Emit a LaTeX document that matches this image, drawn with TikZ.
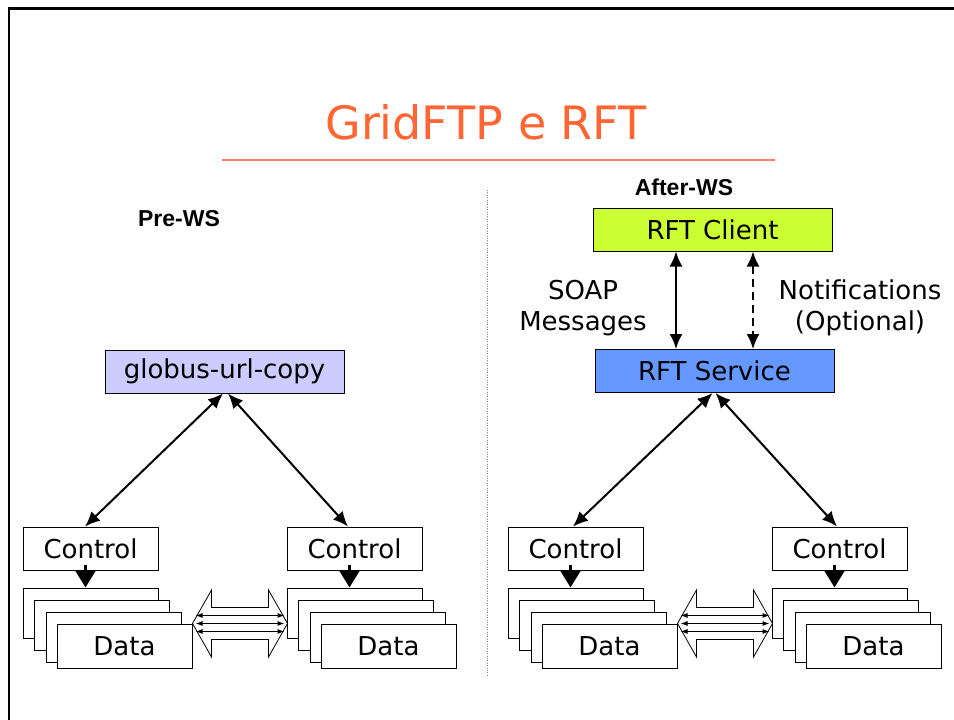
\documentclass[tikz,border=0pt]{standalone}
\usepackage{fontspec}
\setmainfont{DejaVu Sans}
\newfontfamily\headfont{Liberation Sans}
\usetikzlibrary{arrows.meta}

\definecolor{titleorange}{HTML}{FF6633}
\definecolor{ruleorange}{HTML}{FF7F66}
\definecolor{globusfill}{HTML}{CCCCFF}
\definecolor{clientfill}{HTML}{CCFF33}
\definecolor{servicefill}{HTML}{6699FF}

\tikzset{
  box/.style={draw, line width=1pt, fill=white, inner sep=0pt,
    minimum width=135pt, minimum height=43pt,
    font=\fontsize{26}{31}\selectfont},
  toolbox/.style={box, minimum width=239pt},
  head/.style={font=\headfont\bfseries\fontsize{23}{27}\selectfont},
  note/.style={align=center, font=\fontsize{26}{31}\selectfont},
  link/.style={line width=2pt, {Latex[length=15pt,width=13pt]}-{Latex[length=15pt,width=13pt]}},
  ctlarrow/.style={line width=3pt, -{Triangle[length=17pt,width=20pt]}},
  thinlink/.style={line width=1pt, {Latex[length=7pt,width=5pt]}-{Latex[length=7pt,width=5pt]}},
}

\begin{document}
\begin{tikzpicture}[x=1pt, y=-1pt]
\useasboundingbox (0,0) rectangle (954,720);
% slide frame
\draw[line width=2.5pt] (9,720) -- (9,8.5) -- (954,8.5);

% title
\node[text=titleorange, font=\fontsize{46}{55}\selectfont] (title) at (486,122) {GridFTP e RFT};
\draw[ruleorange, line width=1.5pt] (222,160) -- (775,160);
\draw[gray, dotted] (487,190) -- (487,676);

\node[head] (prews) at (179,219) {Pre-WS};
\node[head] (afterws) at (684,187) {After-WS};

\node[toolbox, fill=globusfill] (globus) at (224.5,371.5) {globus-url-copy};
\node[toolbox, fill=clientfill] (client) at (712.5,229.5) {RFT Client};
\node[toolbox, fill=servicefill] (service) at (714.5,371) {RFT Service};

% control + data stacks
\foreach \s/\x in {a/90.5, b/354.5, c/575.5, d/839.5} {
  \node[box] (ctl\s) at (\x,548.5) {Control};
  \foreach \i/\dx/\dy in {1/0/613, 2/11.5/625, 3/23/637}
    \node[box, minimum height=50pt] (d\s\i) at (\x+\dx,\dy) {};
  \node[box, minimum height=44pt] (d\s4) at (\x+34,646) {Data};
  \draw[ctlarrow] ([xshift=-5pt,yshift=6pt]ctl\s.south) -- ([xshift=-5pt]d\s1.north);
}

% hollow transfer arrows
\foreach \l in {a, c} {
  \coordinate (h\l) at (d\l4.north east);
  \begin{scope}[shift={(h\l)}]
    \draw[fill=white, line width=0.8pt] (0,0) -- (19,-33.5) -- (19,-16) -- (76,-16) -- (76,-33.5)
      -- (95,0) -- (76,33.5) -- (76,16) -- (19,16) -- (19,33.5) -- cycle;
    \foreach \y in {-8,0,8}
      \draw[thinlink] (3,\y) -- (92,\y);
  \end{scope}
}

% control links
\draw[link] ([xshift=-1.5pt]globus.south) -- ([xshift=-5.5pt]ctla.north);
\draw[link] ([xshift=3.5pt]globus.south) -- ([xshift=-6.5pt]ctlb.north);
\draw[link] ([xshift=-2pt]service.south) -- ([xshift=-2.5pt]ctlc.north);
\draw[link] ([xshift=1pt]service.south) -- ([xshift=-2.5pt]ctld.north);

% client <-> service
\draw[link] ([xshift=-36.5pt]client.south) -- ([xshift=-36.5pt]client.south |- service.north);
\draw[link, dashed, dash pattern=on 8pt off 5pt] ([xshift=40.5pt]client.south) -- ([xshift=40.5pt]client.south |- service.north);
\node[note] (soap) at (583,308) {SOAP\\Messages};
\node[note] (notif) at (860,308) {Notifications\\(Optional)};
\end{tikzpicture}
\end{document}
